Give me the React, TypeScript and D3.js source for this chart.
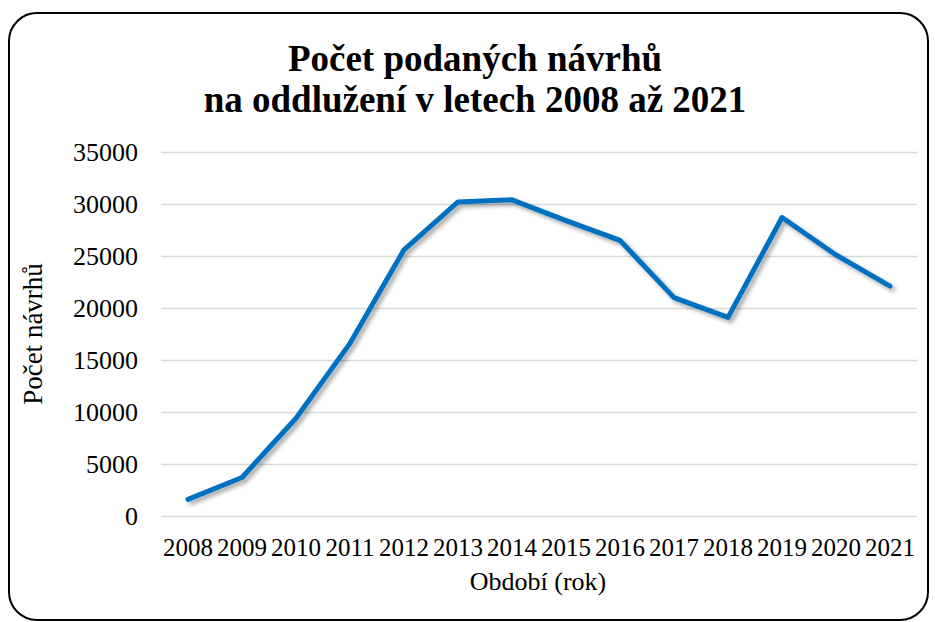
import React, { useRef, useEffect } from 'react';
import * as d3 from 'd3';

const years = ['2008', '2009', '2010', '2011', '2012', '2013', '2014', '2015', '2016', '2017', '2018', '2019', '2020', '2021'];
const navrhy = [1600, 3700, 9400, 16600, 25600, 30200, 30400, 28400, 26500, 21000, 19100, 28700, 25100, 22100];
const yTicks = [0, 5000, 10000, 15000, 20000, 25000, 30000, 35000];
const titleLines = ['Počet podaných návrhů', 'na oddlužení v letech 2008 až 2021'];

const W = 935;
const H = 622;
const FONT = '"Liberation Serif", "Times New Roman", serif';

const App = () => {
  const ref = useRef<SVGSVGElement>(null);

  useEffect(() => {
    const svg = d3.select(ref.current);
    svg.selectAll('*').remove();

    const left = 161, right = 917, top = 152, bottom = 516;

    const x = d3.scaleBand().domain(years).range([left, right]);
    const y = d3.scaleLinear().domain([0, 35000]).range([bottom, top]);

    // shadow under the line
    const defs = svg.append('defs');
    const f = defs.append('filter').attr('id', 'shadow').attr('x', '-10%').attr('y', '-10%').attr('width', '120%').attr('height', '130%');
    f.append('feDropShadow')
      .attr('dx', 3).attr('dy', 3).attr('stdDeviation', 2)
      .attr('flood-color', '#000').attr('flood-opacity', 0.35);

    svg.append('rect')
      .attr('x', 9).attr('y', 13).attr('width', 919).attr('height', 607)
      .attr('rx', 28).attr('ry', 28)
      .attr('fill', '#fff').attr('stroke', '#000').attr('stroke-width', 2);

    // title
    svg.append('g').selectAll('text')
      .data(titleLines)
      .enter().append('text')
      .attr('x', 475)
      .attr('y', (d, i) => 71 + i * 41)
      .attr('text-anchor', 'middle')
      .attr('font-family', FONT)
      .attr('font-weight', 'bold')
      .attr('font-size', 37)
      .text(d => d);

    // y axis with gridlines
    const yAxis = svg.append('g')
      .attr('transform', `translate(${left},0)`)
      .call(d3.axisLeft(y).tickValues(yTicks).tickSize(-(right - left)).tickPadding(23).tickFormat(d3.format('d')));
    yAxis.select('.domain').remove();
    yAxis.selectAll('.tick line').attr('stroke', '#d9d9d9').attr('stroke-width', 1.5);
    yAxis.selectAll('.tick text')
      .attr('font-family', FONT).attr('font-size', 26).attr('fill', '#000');

    // x axis
    const xAxis = svg.append('g')
      .attr('transform', `translate(0,${bottom})`)
      .call(d3.axisBottom(x).tickSize(0).tickPadding(22));
    xAxis.select('.domain').remove();
    xAxis.selectAll('.tick text')
      .attr('font-family', FONT).attr('font-size', 25).attr('fill', '#000');

    const line = d3.line<number>()
      .x((d, i) => (x(years[i]) as number) + x.bandwidth() / 2)
      .y(d => y(d));

    svg.append('path')
      .datum(navrhy)
      .attr('d', line)
      .attr('fill', 'none')
      .attr('stroke', '#0070C0')
      .attr('stroke-width', 5)
      .attr('stroke-linejoin', 'round')
      .attr('stroke-linecap', 'round')
      .attr('filter', 'url(#shadow)');

    // axis titles
    svg.append('text')
      .attr('transform', `translate(42,334) rotate(-90)`)
      .attr('text-anchor', 'middle')
      .attr('font-family', FONT).attr('font-size', 27)
      .text('Počet návrhů');

    svg.append('text')
      .attr('x', 538).attr('y', 590)
      .attr('text-anchor', 'middle')
      .attr('font-family', FONT).attr('font-size', 26)
      .text('Období (rok)');
  }, []);

  return (
    <div style={{ position: 'fixed', left: 0, top: 0 }}>
      <svg ref={ref} width={W} height={H} style={{ display: 'block', background: '#fff' }}></svg>
    </div>
  );
};

export default App;
